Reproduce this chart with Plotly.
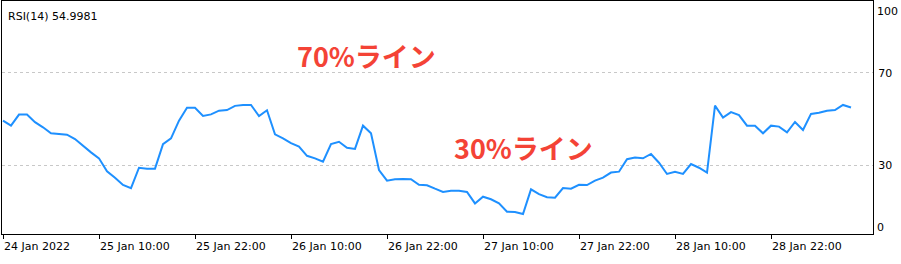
import plotly.graph_objects as go

# RSI(14) values, one per H1 bar (index 0 = 24 Jan 2022 22:00)
rsi_values = [
    49.3, 47.1, 51.9, 51.9, 48.6, 46.4, 43.8, 43.5, 43.2, 41.3,
    38.3, 35.5, 32.9, 27.3, 24.5, 21.3, 19.9, 28.8, 28.4, 28.4,
    39.1, 41.6, 49.3, 54.9, 54.9, 51.3, 52.0, 53.6, 53.9, 55.7,
    56.1, 56.1, 51.3, 53.8, 43.3, 41.6, 39.5, 38.0, 34.0, 32.9,
    31.4, 39.1, 40.1, 37.5, 37.0, 47.1, 43.8, 27.8, 23.2, 23.8,
    23.9, 23.8, 21.4, 21.2, 19.7, 18.3, 18.8, 18.8, 18.3, 13.3,
    16.2, 15.1, 13.3, 9.7, 9.6, 8.7, 19.4, 17.3, 16.0, 15.8,
    20.0, 19.7, 21.4, 21.3, 23.2, 24.5, 26.7, 27.1, 32.5, 33.3,
    32.9, 34.8, 31.0, 26.1, 27.0, 26.1, 30.4, 28.8, 26.7, 55.8,
    50.6, 53.0, 51.7, 47.1, 47.1, 43.8, 47.1, 46.7, 44.2, 48.7,
    45.2, 52.2, 52.7, 53.6, 53.9, 56.1, 54.9981,
]
bar_index = list(range(len(rsi_values)))

x_tick_index = [0, 12, 24, 36, 48, 60, 72, 84, 96]
x_tick_labels = [
    "24 Jan 2022", "25 Jan 10:00", "25 Jan 22:00", "26 Jan 10:00",
    "26 Jan 22:00", "27 Jan 10:00", "27 Jan 22:00", "28 Jan 10:00",
    "28 Jan 22:00",
]
level_values = [30, 70]
level_labels = ["30", "70"]
indicator_title = "RSI(14) 54.9981"

TICK_FONT = dict(family="DejaVu Sans", size=11, color="#000000")

fig = go.Figure()
fig.add_trace(go.Scatter(
    x=bar_index, y=rsi_values, mode="lines",
    line=dict(color="#1E90FF", width=2), hoverinfo="skip", showlegend=False,
))

fig.update_layout(
    width=901, height=264,
    margin=dict(l=2, r=28, t=1, b=30),
    paper_bgcolor="white", plot_bgcolor="white",
    showlegend=False,
    xaxis=dict(
        range=[-0.125, 108.75],
        tickmode="array", tickvals=x_tick_index, ticktext=x_tick_labels,
        ticks="outside", ticklen=4, tickcolor="black", tickwidth=1,
        ticklabelposition="outside right", ticklabelstandoff=2,
        tickfont=TICK_FONT,
        showgrid=False, zeroline=False,
        showline=True, linecolor="black", linewidth=1, mirror=True,
    ),
    yaxis=dict(
        range=[0, 101.3], side="right",
        tickmode="array", tickvals=level_values, ticktext=level_labels,
        ticks="", tickfont=TICK_FONT, ticklabelstandoff=2,
        showgrid=True, gridcolor="#c8c8c8", gridwidth=1, griddash="3px,3px",
        zeroline=False,
        showline=True, linecolor="black", linewidth=1, mirror=True,
    ),
)

# scale end labels (drawn inside the frame as in the original)
fig.add_annotation(x=1, y=100, xref="paper", yref="y", text="100",
                   showarrow=False, xanchor="left", yanchor="middle",
                   xshift=2, yshift=-8, font=TICK_FONT)
fig.add_annotation(x=1, y=0, xref="paper", yref="y", text="0",
                   showarrow=False, xanchor="left", yanchor="middle",
                   xshift=2, yshift=7, font=TICK_FONT)

fig.add_annotation(x=0, y=1, xref="paper", yref="paper", text=indicator_title,
                   showarrow=False, xanchor="left", yanchor="top",
                   xshift=4, yshift=-7, font=dict(family="DejaVu Sans", size=11, color="#000000"))

RED_FONT = dict(family="Noto Sans CJK JP", size=27, color="#F44336", weight="bold")
fig.add_annotation(x=45.4, y=77.8, text="<b>70%ライン</b>", showarrow=False,
                   xanchor="center", yanchor="middle", font=RED_FONT)
fig.add_annotation(x=65.1, y=37.4, text="<b>30%ライン</b>", showarrow=False,
                   xanchor="center", yanchor="middle", font=RED_FONT)

fig.write_html("out.html")
